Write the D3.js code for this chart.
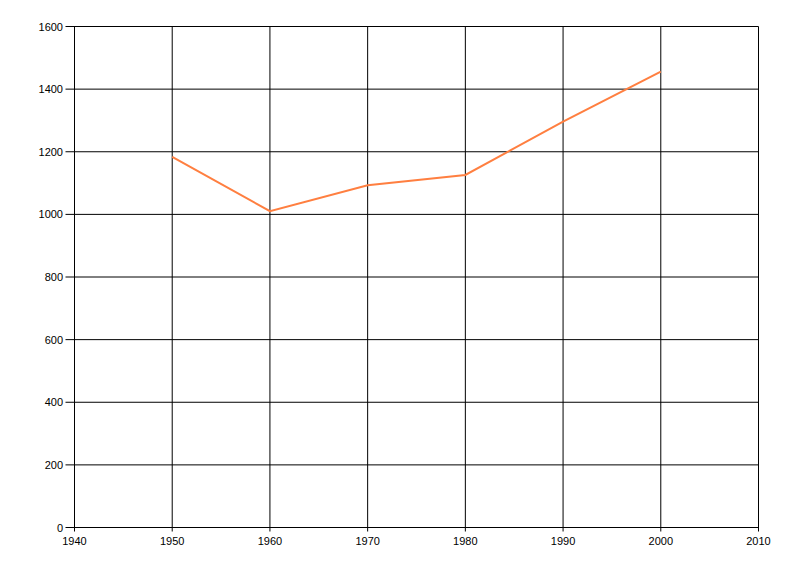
<!DOCTYPE html>
<html><head><meta charset="utf-8">
<script src="https://cdn.jsdelivr.net/npm/d3@7"></script>
<style>body{margin:0;background:#fff}svg{display:block}text{font-family:"Liberation Sans",Arial,sans-serif;font-size:11px;fill:#000}</style>
</head><body><svg id="c" width="800" height="576"></svg>
<script>
const years = [1950, 1960, 1970, 1980, 1990, 2000];
const values = [1184, 1010, 1093, 1126, 1296, 1456];
const xTicks = [1940, 1950, 1960, 1970, 1980, 1990, 2000, 2010];
const yTicks = [0, 200, 400, 600, 800, 1000, 1200, 1400, 1600];

const svg = d3.select("#c");
const x = d3.scaleLinear().domain([1940, 2010]).range([74.5, 758.5]);
const y = d3.scaleLinear().domain([0, 1600]).range([527.5, 26.5]);

const g = svg.append("g");
g.selectAll("line.v").data(xTicks).join("line")
  .attr("x1", d => x(d)).attr("x2", d => x(d))
  .attr("y1", y(1600)).attr("y2", y(0) + 4)
  .attr("stroke", "#000").attr("stroke-width", 1);
g.selectAll("line.h").data(yTicks).join("line")
  .attr("x1", x(1940) - 9).attr("x2", x(2010))
  .attr("y1", d => y(d)).attr("y2", d => y(d))
  .attr("stroke", "#000").attr("stroke-width", 1);

g.selectAll("text.x").data(xTicks).join("text")
  .attr("x", d => x(d)).attr("y", 545)
  .attr("text-anchor", "middle").text(d => d);
g.selectAll("text.y").data(yTicks).join("text")
  .attr("x", 63).attr("y", d => y(d) + 4)
  .attr("text-anchor", "end").text(d => d);

const line = d3.line().x((d, i) => x(years[i])).y(d => y(d));
svg.append("path").datum(values)
  .attr("d", line).attr("fill", "none")
  .attr("stroke", "#ff7f40").attr("stroke-width", 2);
</script></body></html>
